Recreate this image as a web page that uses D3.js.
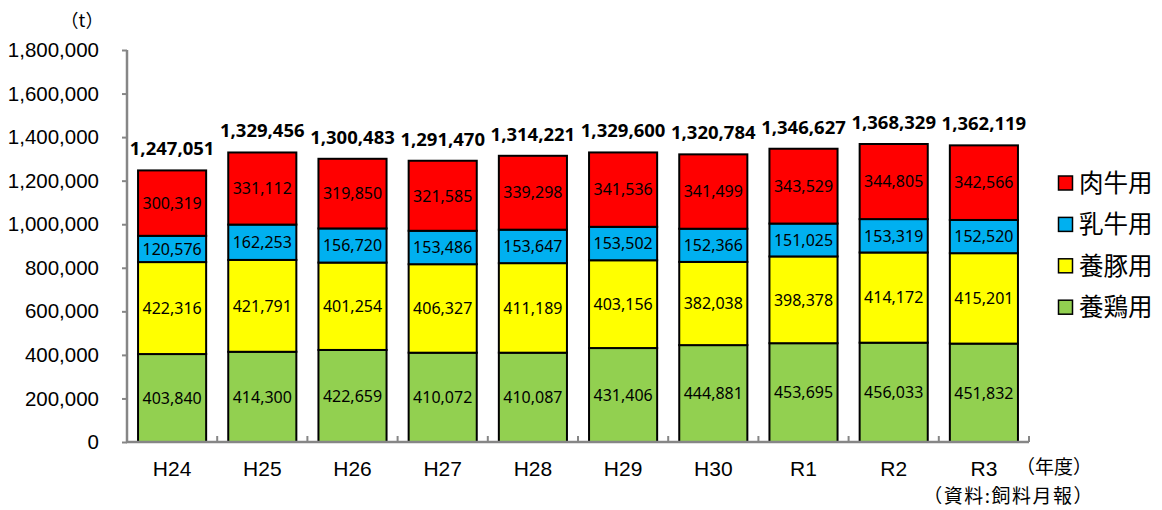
<!DOCTYPE html>
<html>
<head>
<meta charset="utf-8">
<script src="https://cdn.jsdelivr.net/npm/d3@7"></script>
<style>
  body { margin: 0; background: #fff; }
  svg { display: block; }
</style>
</head>
<body>
<svg id="chart" width="1162" height="510"></svg>
<script>
// Fiscal years
const years = ["H24", "H25", "H26", "H27", "H28", "H29", "H30", "R1", "R2", "R3"];
// Feed production by livestock type (t)
const poultry = [403840, 414300, 422659, 410072, 410087, 431406, 444881, 453695, 456033, 451832];
const pig     = [422316, 421791, 401254, 406327, 411189, 403156, 382038, 398378, 414172, 415201];
const dairy   = [120576, 162253, 156720, 153486, 153647, 153502, 152366, 151025, 153319, 152520];
const beef    = [300319, 331112, 319850, 321585, 339298, 341536, 341499, 343529, 344805, 342566];
const totals  = [1247051, 1329456, 1300483, 1291470, 1314221, 1329600, 1320784, 1346627, 1368329, 1362119];
const yTicks  = [0, 200000, 400000, 600000, 800000, 1000000, 1200000, 1400000, 1600000, 1800000];

const seriesNames = ["養鶏用", "養豚用", "乳牛用", "肉牛用"];
const seriesData = [poultry, pig, dairy, beef];
const seriesColors = ["#92D050", "#FFFF00", "#00B0F0", "#FF0000"];

const svg = d3.select("#chart");
const fmt = d3.format(",");
const plotLeft = 127, plotRight = 1029, plotTop = 50, plotBottom = 442;

const x = d3.scaleBand().domain(years).range([plotLeft, plotRight]).paddingInner(0.245).paddingOuter(0.1225);
const y = d3.scaleLinear().domain([0, 1800000]).range([plotBottom, plotTop]);

const rows = years.map((yr, i) => {
  const r = { year: yr };
  seriesNames.forEach((n, k) => r[n] = seriesData[k][i]);
  return r;
});
const stacked = d3.stack().keys(seriesNames)(rows);

// Stacked bars
const layers = svg.append("g").selectAll("g").data(stacked).join("g")
  .attr("fill", (d, i) => seriesColors[i]);
layers.selectAll("rect").data(d => d).join("rect")
  .attr("x", d => x(d.data.year))
  .attr("y", d => y(d[1]))
  .attr("width", x.bandwidth())
  .attr("height", d => y(d[0]) - y(d[1]))
  .attr("stroke", "#000")
  .attr("stroke-width", 2);

// Segment value labels
layers.selectAll("text").data(d => d).join("text")
  .attr("x", d => x(d.data.year) + x.bandwidth() / 2)
  .attr("y", d => (y(d[0]) + y(d[1])) / 2)
  .attr("dy", "0.36em")
  .attr("text-anchor", "middle")
  .attr("font-family", "'Noto Sans', 'Noto Sans CJK JP', sans-serif")
  .attr("font-size", 16)
  .attr("fill", "#000")
  .text(d => fmt(d[1] - d[0]));

// Totals above each bar
svg.append("g").selectAll("text").data(years).join("text")
  .attr("x", d => x(d) + x.bandwidth() / 2)
  .attr("y", (d, i) => y(totals[i]) - 15)
  .attr("text-anchor", "middle")
  .attr("font-family", "'Noto Sans', 'Noto Sans CJK JP', sans-serif")
  .attr("font-weight", "bold")
  .attr("font-size", 18.5)
  .attr("fill", "#000")
  .text((d, i) => fmt(totals[i]));

// Y axis
const yAxis = svg.append("g").attr("transform", `translate(${plotLeft},0)`)
  .call(d3.axisLeft(y).tickValues(yTicks).tickFormat(fmt).tickSize(5).tickPadding(23));
yAxis.select(".domain").attr("stroke", "#868686").attr("stroke-width", 2.5).attr("d", `M0,${plotTop}V${plotBottom}`);
yAxis.selectAll(".tick line").attr("stroke", "#868686").attr("stroke-width", 2);
yAxis.selectAll(".tick text")
  .attr("font-family", "'Liberation Sans', Arial, sans-serif")
  .attr("font-size", 20.5).attr("fill", "#000");

// X axis with boundary ticks
const xAxis = svg.append("g").attr("transform", `translate(0,${plotBottom})`);
xAxis.append("line").attr("x1", plotLeft - 1).attr("x2", plotRight).attr("y1", 0).attr("y2", 0)
  .attr("stroke", "#868686").attr("stroke-width", 2.5);
const step = x.step();
const bounds = d3.range(years.length + 1).map(i => x(years[0]) - x.paddingOuter() * step + i * step);
xAxis.selectAll("line.b").data(bounds).join("line").attr("class", "b")
  .attr("x1", d => d).attr("x2", d => d).attr("y1", 0).attr("y2", -6)
  .attr("stroke", "#868686").attr("stroke-width", 2);
xAxis.selectAll("text").data(years).join("text")
  .attr("x", d => x(d) + x.bandwidth() / 2)
  .attr("y", 34)
  .attr("text-anchor", "middle")
  .attr("font-family", "'Liberation Sans', Arial, sans-serif")
  .attr("font-size", 21).attr("fill", "#000")
  .text(d => d);

// Unit and notes
const jp = "'Noto Sans CJK JP', sans-serif";
svg.append("text").attr("x", 82).attr("y", 21).attr("dy", "0.36em").attr("text-anchor", "middle")
  .attr("font-family", jp).attr("font-size", 18).text("（t）");
svg.append("text").attr("x", 1092).attr("y", 467).attr("dy", "0.36em").attr("text-anchor", "end")
  .attr("font-family", jp).attr("font-size", 19).text("（年度）");
svg.append("text").attr("x", 1094).attr("y", 496).attr("dy", "0.36em").attr("text-anchor", "end")
  .attr("font-family", jp).attr("font-size", 19).attr("letter-spacing", 1.5)
  .text("（資料:飼料月報）");

// Legend (top to bottom: beef, dairy, pig, poultry)
const legendOrder = [3, 2, 1, 0];
const lg = svg.append("g").selectAll("g").data(legendOrder).join("g")
  .attr("transform", (d, i) => `translate(1058,${183 + i * 41.4})`);
lg.append("rect").attr("x", 0.5).attr("y", -7).attr("width", 14).attr("height", 14)
  .attr("fill", d => seriesColors[d]).attr("stroke", "#000").attr("stroke-width", 1.5);
lg.append("text").attr("x", 21).attr("y", 0).attr("dy", "0.36em")
  .attr("font-family", jp).attr("font-size", 24.5).text(d => seriesNames[d]);
</script>
</body>
</html>
